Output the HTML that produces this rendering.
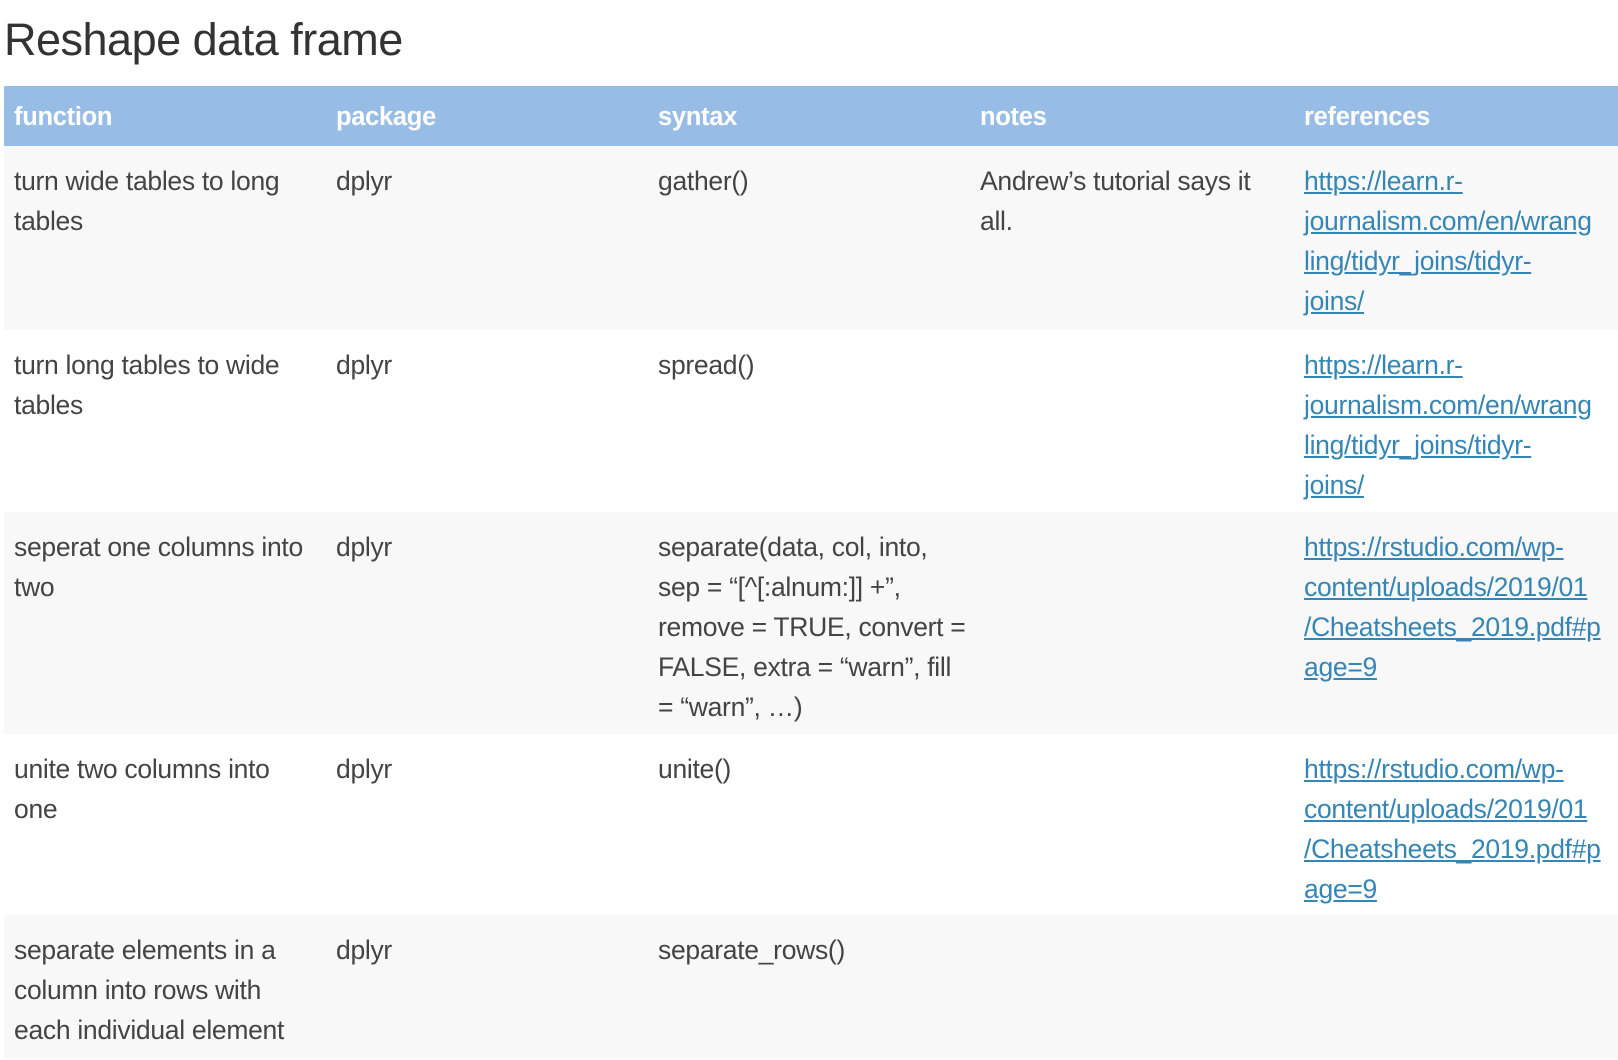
<!DOCTYPE html>
<html><head><meta charset="utf-8"><style>
body{margin:0;width:1618px;height:1060px;background:#fff;font-family:"Liberation Sans",sans-serif;color:#444;overflow:hidden;position:relative}
h1{position:absolute;left:4px;top:14px;margin:0;font-weight:normal;font-size:45px;color:#333;letter-spacing:-0.5px}
.row{position:absolute;left:4px;width:1614px}
.c{position:absolute;top:0;white-space:nowrap;font-size:26.5px;line-height:40px;letter-spacing:-0.3px}
.hd{background:#97bde7;top:86px;height:60px}
.hd .c{color:#fff;font-weight:bold;top:11px;font-size:25.5px}
a{color:#3585b5;text-decoration:underline}
</style></head><body>
<h1>Reshape data frame</h1>
<div class="row hd">
<div class="c" style="left:10px">function</div><div class="c" style="left:332px">package</div><div class="c" style="left:654px">syntax</div><div class="c" style="left:976px">notes</div><div class="c" style="left:1300px">references</div>
</div>
<div class="row" style="top:146px;height:184px;background:#f8f8f8"><div style="position:relative;top:15px">
<div class="c" style="left:10px">turn wide tables to long<br>tables</div><div class="c" style="left:332px">dplyr</div><div class="c" style="left:654px">gather()</div><div class="c" style="left:976px">Andrew’s tutorial says it<br>all.</div><div class="c" style="left:1300px"><a>https://learn.r-<br>journalism.com/en/wrang<br>ling/tidyr_joins/tidyr-<br>joins/</a></div>
</div></div>
<div class="row" style="top:330px;height:182px;background:#fff"><div style="position:relative;top:15px">
<div class="c" style="left:10px">turn long tables to wide<br>tables</div><div class="c" style="left:332px">dplyr</div><div class="c" style="left:654px">spread()</div><div class="c" style="left:1300px"><a>https://learn.r-<br>journalism.com/en/wrang<br>ling/tidyr_joins/tidyr-<br>joins/</a></div>
</div></div>
<div class="row" style="top:512px;height:222px;background:#f8f8f8"><div style="position:relative;top:15px">
<div class="c" style="left:10px">seperat one columns into<br>two</div><div class="c" style="left:332px">dplyr</div><div class="c" style="left:654px">separate(data, col, into,<br>sep = “[^[:alnum:]] +”,<br>remove = TRUE, convert =<br>FALSE, extra = “warn”, fill<br>= “warn”, …)</div><div class="c" style="left:1300px"><a>https://rstudio.com/wp-<br>content/uploads/2019/01<br>/Cheatsheets_2019.pdf#p<br>age=9</a></div>
</div></div>
<div class="row" style="top:734px;height:181px;background:#fff"><div style="position:relative;top:15px">
<div class="c" style="left:10px">unite two columns into<br>one</div><div class="c" style="left:332px">dplyr</div><div class="c" style="left:654px">unite()</div><div class="c" style="left:1300px"><a>https://rstudio.com/wp-<br>content/uploads/2019/01<br>/Cheatsheets_2019.pdf#p<br>age=9</a></div>
</div></div>
<div class="row" style="top:915px;height:143px;background:#f8f8f8"><div style="position:relative;top:15px">
<div class="c" style="left:10px">separate elements in a<br>column into rows with<br>each individual element</div><div class="c" style="left:332px">dplyr</div><div class="c" style="left:654px">separate_rows()</div>
</div></div>
</body></html>
